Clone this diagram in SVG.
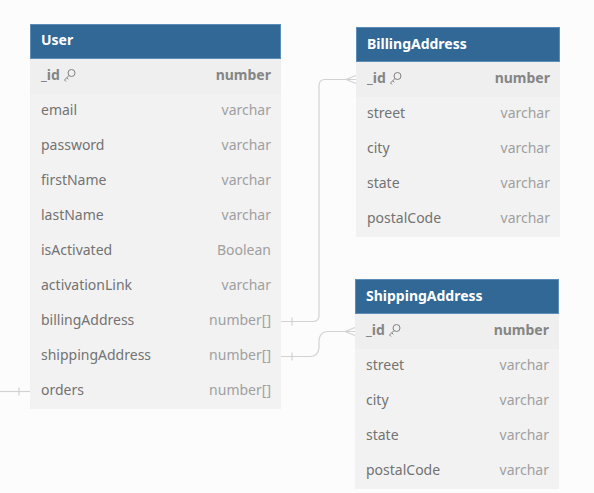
<svg xmlns="http://www.w3.org/2000/svg" width="594" height="493" viewBox="0 0 594 493">
<style>
.bg{fill:#fcfcfc}
.hd{fill:#316896;stroke:#5b8db8;stroke-width:1}
.row{fill:#f2f2f2}
.pk{fill:#efefef}
.ht{font-family:"Noto Sans","Open Sans",sans-serif;font-size:14px;font-weight:bold;fill:#ffffff}
.fn{font-family:"Noto Sans","Open Sans",sans-serif;font-size:14px;fill:#737373}
.ft{font-family:"Noto Sans","Open Sans",sans-serif;font-size:14px;fill:#a0a0a0;text-anchor:end}
.fb{font-weight:bold;fill:#858585}
.cn{fill:none;stroke:#d2d2d2;stroke-width:1.2}
.key{fill:none;stroke:#808080;stroke-width:1}
</style>
<rect class="bg" x="0" y="0" width="594" height="493"/>

<g id="connectors">
  <path class="cn" d="M281 321.5 H313 Q319 321.5 319 315.5 V86 Q319 79.5 325 79.5 H356"/>
  <path class="cn" d="M292 317.5 V325.5"/>
  <path class="cn" d="M346 79.5 L356 75.5 M346 79.5 L356 83.5"/>
  <path class="cn" d="M281 356.5 H310 Q318 356.5 319 348 V340 Q320 331.5 328 331.5 H355"/>
  <path class="cn" d="M292 352.5 V360.5"/>
  <path class="cn" d="M345 331.5 L355 327.5 M345 331.5 L355 335.5"/>
  <path class="cn" d="M0 391.5 H30"/>
  <path class="cn" d="M19 387.5 V395.5"/>
</g>

<defs>
  <g id="keyicon" class="key"><circle cx="7.5" cy="4" r="3.5"/><path d="M5 6.5 L0.5 11 L2 12.5 M2.8 8.8 L4.3 10.3"/></g>
</defs>

<g id="User">
  <rect class="row" x="30" y="59" width="251" height="350"/>
  <rect class="pk" x="30" y="59" width="251" height="35"/>
  <rect class="hd" x="30.5" y="24.5" width="250" height="34"/>
  <text class="ht" x="41" y="45">User</text>
  <text class="fn fb" x="41" y="80">_id</text>
  <use href="#keyicon" x="64" y="69"/>
  <text class="ft fb" x="271" y="80">number</text>
  <text class="fn" x="41" y="115">email</text><text class="ft" x="271" y="115">varchar</text>
  <text class="fn" x="41" y="150">password</text><text class="ft" x="271" y="150">varchar</text>
  <text class="fn" x="41" y="185">firstName</text><text class="ft" x="271" y="185">varchar</text>
  <text class="fn" x="41" y="220">lastName</text><text class="ft" x="271" y="220">varchar</text>
  <text class="fn" x="41" y="255">isActivated</text><text class="ft" x="271" y="255">Boolean</text>
  <text class="fn" x="41" y="290">activationLink</text><text class="ft" x="271" y="290">varchar</text>
  <text class="fn" x="41" y="325">billingAddress</text><text class="ft" x="271" y="325">number[]</text>
  <text class="fn" x="41" y="360">shippingAddress</text><text class="ft" x="271" y="360">number[]</text>
  <text class="fn" x="41" y="395">orders</text><text class="ft" x="271" y="395">number[]</text>
</g>

<g id="BillingAddress">
  <rect class="row" x="356" y="62" width="204" height="175"/>
  <rect class="pk" x="356" y="62" width="204" height="35"/>
  <rect class="hd" x="356.5" y="27.5" width="203" height="34"/>
  <text class="ht" x="367" y="49">BillingAddress</text>
  <text class="fn fb" x="367" y="83">_id</text>
  <use href="#keyicon" x="390" y="72"/>
  <text class="ft fb" x="550" y="83">number</text>
  <text class="fn" x="367" y="118">street</text><text class="ft" x="550" y="118">varchar</text>
  <text class="fn" x="367" y="153">city</text><text class="ft" x="550" y="153">varchar</text>
  <text class="fn" x="367" y="188">state</text><text class="ft" x="550" y="188">varchar</text>
  <text class="fn" x="367" y="223">postalCode</text><text class="ft" x="550" y="223">varchar</text>
</g>

<g id="ShippingAddress">
  <rect class="row" x="355" y="314" width="204" height="175"/>
  <rect class="pk" x="355" y="314" width="204" height="35"/>
  <rect class="hd" x="355.5" y="279.5" width="203" height="34"/>
  <text class="ht" x="366" y="301">ShippingAddress</text>
  <text class="fn fb" x="366" y="335">_id</text>
  <use href="#keyicon" x="389" y="324"/>
  <text class="ft fb" x="549" y="335">number</text>
  <text class="fn" x="366" y="370">street</text><text class="ft" x="549" y="370">varchar</text>
  <text class="fn" x="366" y="405">city</text><text class="ft" x="549" y="405">varchar</text>
  <text class="fn" x="366" y="440">state</text><text class="ft" x="549" y="440">varchar</text>
  <text class="fn" x="366" y="475">postalCode</text><text class="ft" x="549" y="475">varchar</text>
</g>
</svg>
